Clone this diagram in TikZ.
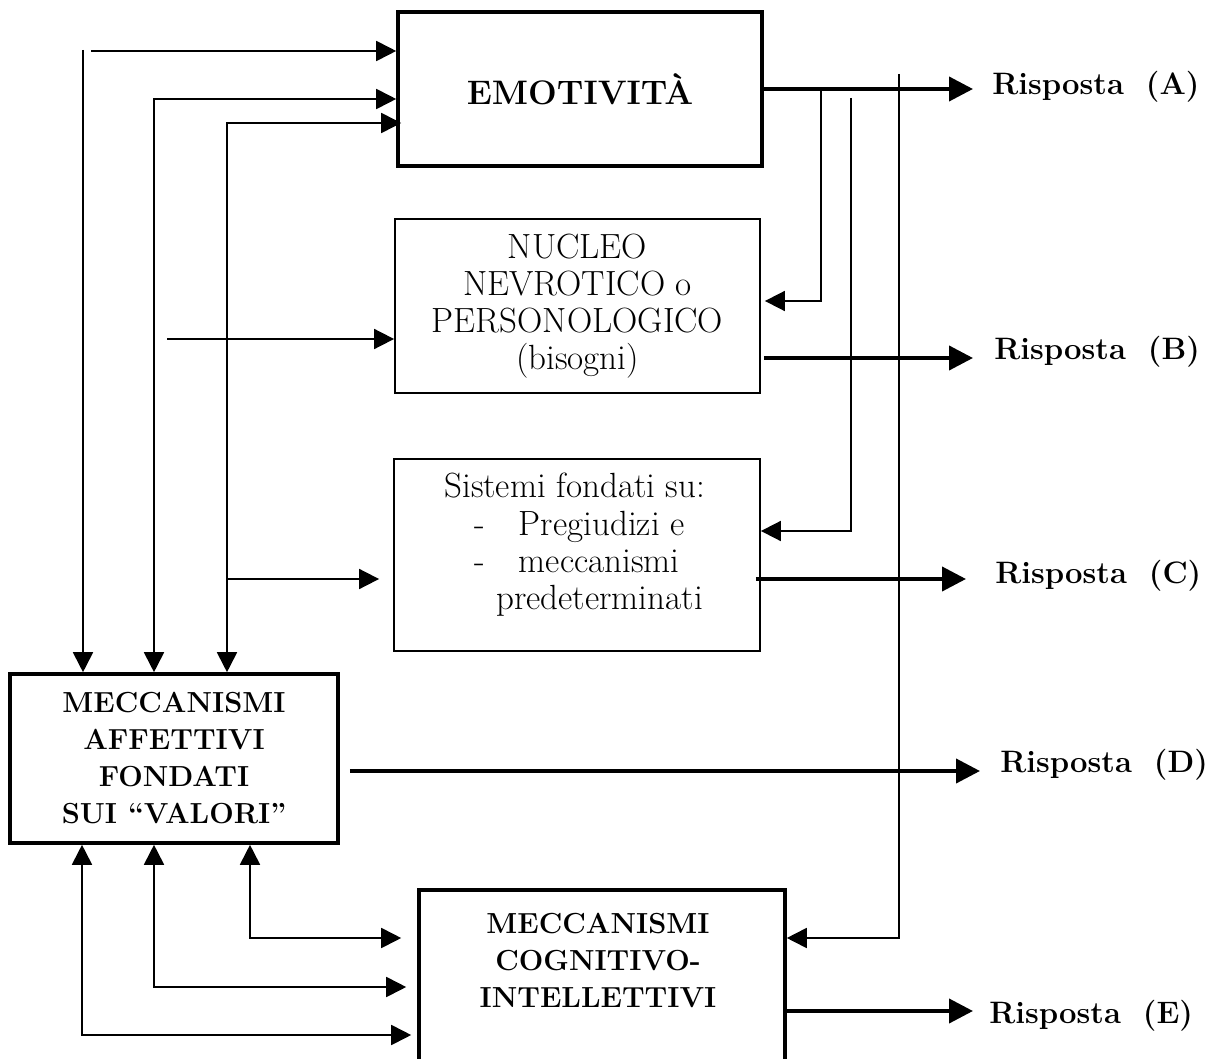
\documentclass[tikz,border=0pt]{standalone}
\usepackage{tikz}
\usetikzlibrary{arrows.meta,positioning}

\tikzset{
  thickbox/.style={draw, line width=1.8pt, inner sep=0pt},
  thinbox/.style={draw, line width=0.9pt, inner sep=0pt},
  wire/.style={line width=0.9pt, -{Triangle[length=10pt,width=10pt]}},
  bothwire/.style={line width=0.9pt, {Triangle[length=10pt,width=10pt]}-{Triangle[length=10pt,width=10pt]}},
  outwire/.style={line width=2pt, -{Triangle[length=12pt,width=12pt]}},
  risp/.style={anchor=base west, inner sep=0pt, font=\fontsize{15.5}{18}\selectfont\bfseries},
  boldtxt/.style={align=center, inner sep=0pt, font=\fontsize{14.5}{18.5}\selectfont\bfseries},
  plaintxt/.style={inner sep=0pt, font=\fontsize{17.5}{18.6}\selectfont}
}

\begin{document}
\begin{tikzpicture}[x=0.5pt, y=-0.5pt]
\useasboundingbox (0,0) rectangle (1221,1059);

% Boxes
\node[thickbox, minimum width=182pt, minimum height=77pt, font=\fontsize{17}{20}\selectfont\bfseries] (emo) at (580,89) {EMOTIVITÀ};
\node[thinbox, plaintxt, align=center, minimum width=182.5pt, minimum height=87pt] (nucleo) at (577.5,306) {NUCLEO\\NEVROTICO o\\PERSONOLOGICO\\(bisogni)};
\node[thinbox, minimum width=183pt, minimum height=96pt] (sistemi) at (577,555) {};
\node[plaintxt, align=left, anchor=north west] (sistemitxt) at (444,473) {Sistemi fondati su:\\
  \hspace*{15pt}-\hspace{17pt}Pregiudizi e\\
  \hspace*{15pt}-\hspace{17pt}meccanismi\\
  \hspace*{26pt}predeterminati};
\node[thickbox, boldtxt, minimum width=164pt, minimum height=84.5pt] (affettivi) at (174,758.5) {MECCANISMI\\AFFETTIVI\\FONDATI\\SUI “VALORI”};
\node[thickbox, minimum width=183pt, minimum height=105pt] (cognitivo) at (602,995) {};
\node[boldtxt, anchor=north] (cognitivotxt) at (598,913) {MECCANISMI\\COGNITIVO-\\INTELLETTIVI};

% Risposte
\node[risp] (rispA) at (992,95) {Risposta\hspace{11pt}(A)};
\node[risp] (rispB) at (994,359) {Risposta\hspace{11pt}(B)};
\node[risp] (rispC) at (995,583) {Risposta\hspace{11pt}(C)};
\node[risp] (rispD) at (1000,772) {Risposta\hspace{11pt}(D)};
\node[risp] (rispE) at (989,1023) {Risposta\hspace{11pt}(E)};

% Inputs on the left
\coordinate (a1) at (91,51);
\coordinate (v1) at (83,50);
\coordinate (a2) at (154,99);
\coordinate (a3) at (227,123);
\coordinate (s3) at (227,579);
\coordinate (n0) at (167,339);
\draw[wire] (a1) -- (a1 -| emo.west);
\draw[wire] (v1) -- (v1 |- affettivi.north);
\draw[bothwire] (a2 -| emo.west) -- (a2) -- (a2 |- affettivi.north);
\draw[bothwire] ([xshift=2.5pt]a3 -| emo.west) -- (a3) -- (a3 |- affettivi.north);
\draw[wire] (s3) -- ([xshift=-7pt]s3 -| sistemi.west);
\draw[wire] (n0) -- (n0 -| nucleo.west);

% Branches from EMOTIVITA
\coordinate (b1) at (821,301);
\coordinate (b2top) at (851,98);
\coordinate (b2) at (851,531);
\coordinate (b3top) at (899,74);
\coordinate (b3) at (899,938);
\draw[outwire, shorten >=9.5pt] (emo.east) -- (emo.east -| rispA.west);
\draw[wire] (b1 |- emo.east) -- (b1) -- ([xshift=2pt]b1 -| nucleo.east);
\draw[wire] (b2top) -- (b2) -- (b2 -| sistemi.east);
\draw[wire] (b3top) -- (b3) -- (b3 -| cognitivo.east);

% Outputs
\coordinate (ob) at ([xshift=1.5pt,yshift=-26pt]nucleo.east);
\coordinate (oc) at ([xshift=-2.5pt,yshift=-12pt]sistemi.east);
\coordinate (od) at ([xshift=5pt,yshift=-6.25pt]affettivi.east);
\coordinate (oe) at ([xshift=-1.5pt,yshift=-8pt]cognitivo.east);
\draw[outwire, shorten >=10.5pt] (ob) -- (ob -| rispB.west);
\draw[outwire, shorten >=14.5pt] (oc) -- (oc -| rispC.west);
\draw[outwire, shorten >=10pt] (od) -- (od -| rispD.west);
\draw[outwire, shorten >=8pt] (oe) -- (oe -| rispE.west);

% Feedback between the two MECCANISMI
\coordinate (c1) at (82,1035);
\coordinate (c2) at (154,987);
\coordinate (c3) at (250,938);
\draw[bothwire] (c1 |- affettivi.south) -- (c1) -- ([xshift=-3pt]c1 -| cognitivo.west);
\draw[bothwire] (c2 |- affettivi.south) -- (c2) -- ([xshift=-5.5pt]c2 -| cognitivo.west);
\draw[bothwire] (c3 |- affettivi.south) -- (c3) -- ([xshift=-8pt]c3 -| cognitivo.west);
\end{tikzpicture}
\end{document}
